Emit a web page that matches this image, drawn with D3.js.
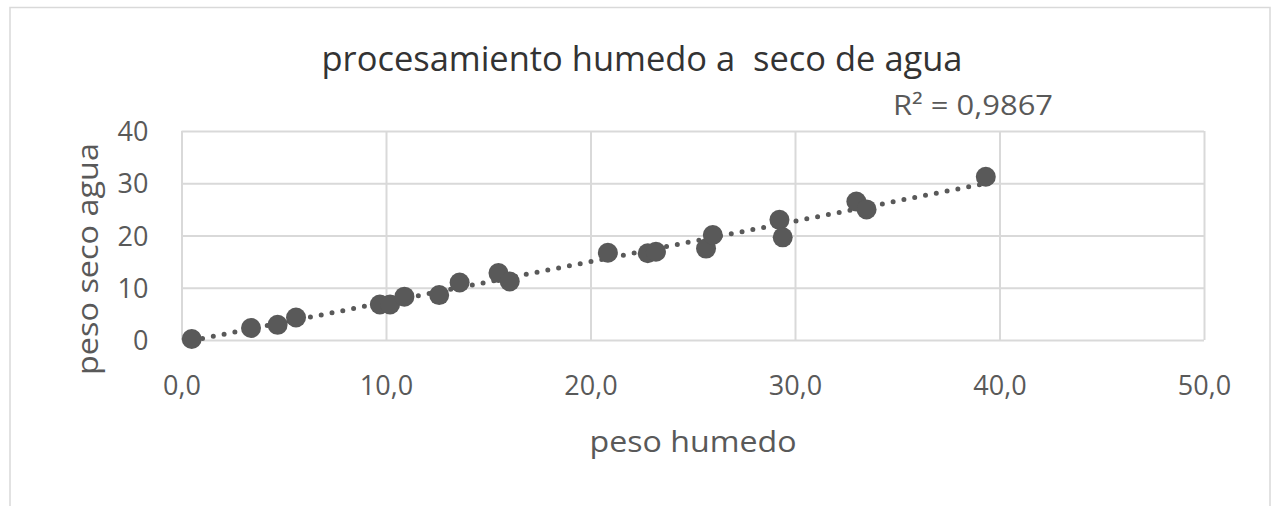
<!DOCTYPE html>
<html><head><meta charset="utf-8">
<script src="https://cdn.jsdelivr.net/npm/d3@7"></script>
<style>body{margin:0;background:#fff}svg{display:block}text{font-family:"Open Sans",sans-serif;white-space:pre}</style>
</head><body><svg id="c" width="1278" height="506"></svg>
<script>
const pesoHumedo = [0.5, 3.4, 4.7, 5.6, 9.7, 10.2, 10.9, 12.6, 13.6, 15.5, 16.05, 20.85, 22.8, 23.2, 25.65, 25.98, 29.24, 29.4, 33.0, 33.5, 39.33];
const pesoSeco   = [0.2, 2.3, 2.9, 4.3, 6.8, 6.8, 8.3, 8.6, 11.0, 12.8, 11.2, 16.7, 16.6, 16.9, 17.5, 20.1, 23.0, 19.65, 26.5, 25.0, 31.25];
const xTicks = [0, 10, 20, 30, 40, 50];
const yTicks = [0, 10, 20, 30, 40];
const title = "procesamiento humedo a  seco de agua";
const xTitle = "peso humedo";
const yTitle = "peso seco agua";
const r2Label = "R² = 0,9867";

const svg = d3.select("#c");
const L = 181.5, R = 1204, T = 131, B = 340;
const x = d3.scaleLinear().domain([0, 50]).range([L, R]);
const y = d3.scaleLinear().domain([0, 40]).range([B, T]);
const grid = "#d9d9d9", txt = "#595959", mark = "#595959";

// outer frame
svg.append("path").attr("d", "M10,506 V7.5 H1270 V506").attr("fill", "none").attr("stroke", grid).attr("stroke-width", 1.5);

// gridlines
const ya = d3.axisLeft(y).tickValues(yTicks).tickSize(-(R - L)).tickFormat(d => d3.format("d")(d));
const gy = svg.append("g").attr("transform", `translate(${L},0)`).call(ya);
gy.select(".domain").remove();
gy.selectAll(".tick line").attr("stroke", grid).attr("stroke-width", 2);
gy.selectAll(".tick text").attr("fill", txt).attr("font-size", 27).attr("dy", "0.36em").attr("x", -33);

const xa = d3.axisBottom(x).tickValues(xTicks).tickSize(-(B - T)).tickFormat(d => d3.format(".1f")(d).replace(".", ","));
const gx = svg.append("g").attr("transform", `translate(0,${B})`).call(xa);
gx.select(".domain").remove();
gx.selectAll(".tick line").attr("stroke", grid).attr("stroke-width", 2);
gx.selectAll(".tick text").attr("fill", txt).attr("font-size", 27).attr("y", 55).attr("dy", 0);

// trendline (least squares)
const n = pesoHumedo.length;
const mx = d3.mean(pesoHumedo), my = d3.mean(pesoSeco);
let sxy = 0, sxx = 0;
for (let i = 0; i < n; i++) { sxy += (pesoHumedo[i]-mx)*(pesoSeco[i]-my); sxx += (pesoHumedo[i]-mx)**2; }
const slope = sxy / sxx, icpt = my - slope * mx;
const x0 = d3.min(pesoHumedo), x1 = d3.max(pesoHumedo);
svg.append("line")
  .attr("x1", x(x0)).attr("y1", y(slope*x0+icpt)).attr("x2", x(x1)).attr("y2", y(slope*x1+icpt))
  .attr("stroke", mark).attr("stroke-width", 5).attr("stroke-linecap", "round").attr("stroke-dasharray", "0 11");

// points
svg.append("g").selectAll("circle").data(pesoHumedo.map((v, i) => [v, pesoSeco[i]])).join("circle")
  .attr("cx", d => x(d[0])).attr("cy", d => y(d[1])).attr("r", 10).attr("fill", mark);

// texts
svg.append("text").attr("x", 642).attr("y", 71).attr("text-anchor", "middle").attr("font-size", 34).attr("fill", "#333333")
  .attr("xml:space", "preserve")
  .attr("textLength", 641).attr("lengthAdjust", "spacingAndGlyphs").text(title);
svg.append("text").attr("x", 973).attr("y", 115).attr("text-anchor", "middle").attr("font-size", 27).attr("fill", txt)
  .attr("textLength", 160).attr("lengthAdjust", "spacingAndGlyphs").text(r2Label);
svg.append("text").attr("x", 693).attr("y", 452).attr("text-anchor", "middle").attr("font-size", 29).attr("fill", txt)
  .attr("textLength", 207).attr("lengthAdjust", "spacingAndGlyphs").text(xTitle);
svg.append("text").attr("transform", "translate(98,259) rotate(-90)").attr("text-anchor", "middle").attr("font-size", 29).attr("fill", txt)
  .attr("textLength", 232).attr("lengthAdjust", "spacingAndGlyphs").text(yTitle);
</script></body></html>
